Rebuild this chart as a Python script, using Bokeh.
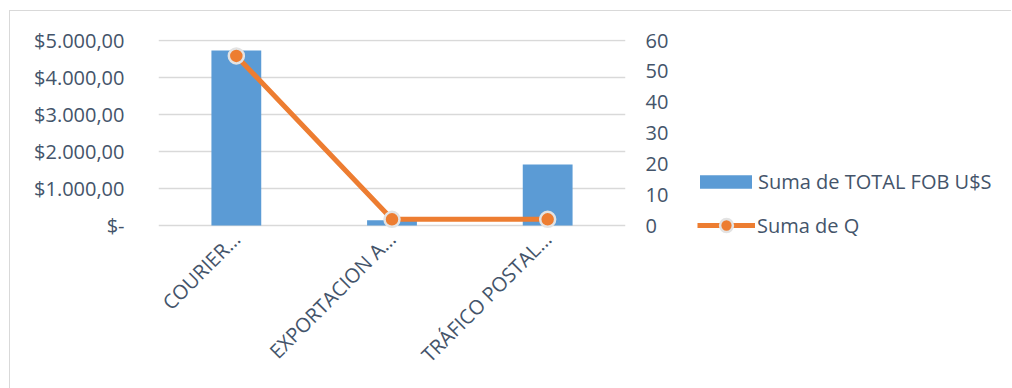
import math
from bokeh.plotting import figure
from bokeh.layouts import row
from bokeh.models import (Range1d, LinearAxis, FixedTicker, Legend, LegendItem,
                          ColumnDataSource, FactorRange)
from bokeh.embed import file_html
from bokeh.resources import INLINE

categories = ["COURIER\u2026", "EXPORTACION A\u2026", "TR\u00c1FICO POSTAL\u2026"]
total_fob = [4730, 140, 1650]
suma_q = [55, 2, 2]
left_ticks = [0, 1000, 2000, 3000, 4000, 5000]
left_labels = ["$-", "$1.000,00", "$2.000,00", "$3.000,00", "$4.000,00", "$5.000,00"]
right_ticks = [0, 10, 20, 30, 40, 50, 60]
series_names = ["Suma de TOTAL FOB U$S", "Suma de Q"]

FONT = "Open Sans"
TXT = "#44546A"
GRID = "#D9D9D9"
BLUE = "#5B9BD5"
ORANGE = "#ED7D31"
MARK_EDGE = "#E3E3E3"
BORDER = "1px solid #D9D9D9"

src = ColumnDataSource(dict(cat=categories, fob=total_fob, q=suma_q))

# frame spans 208 px; value 0 sits 22 px above the frame bottom so that the
# legend panel (whose frame is aligned with this one) has room below
PX_PER_FOB = 185 / 5000
fob_lo, fob_hi = -22 / PX_PER_FOB, 5000 + 1 / PX_PER_FOB
q_lo, q_hi = fob_lo * 60 / 5000, fob_hi * 60 / 5000

# ---------------- main chart ----------------
p = figure(width=671, height=378, x_range=FactorRange(*categories, range_padding=0),
           y_range=Range1d(fob_lo, fob_hi), output_backend="svg", toolbar_location=None,
           min_border_left=148, min_border_right=56, min_border_top=28, min_border_bottom=142,
           margin=(10, 0, 0, 9),
           styles={"border-left": BORDER, "border-top": BORDER})
p.outline_line_color = None
p.extra_y_ranges = {"q": Range1d(q_lo, q_hi)}

bars = p.vbar(x="cat", top="fob", width=0.32, source=src, fill_color=BLUE, line_color=None)
p.line(x="cat", y="q", source=src, y_range_name="q", line_color=ORANGE, line_width=5)
p.scatter(x="cat", y="q", source=src, y_range_name="q", size=15, fill_color=ORANGE,
          line_color=MARK_EDGE, line_width=2.5)

p.yaxis.ticker = FixedTicker(ticks=left_ticks)
p.yaxis.major_label_overrides = {t: l for t, l in zip(left_ticks, left_labels)}
ax_r = LinearAxis(y_range_name="q", ticker=FixedTicker(ticks=right_ticks))
p.add_layout(ax_r, "right")

for ax in [p.yaxis[0], ax_r, p.xaxis[0]]:
    ax.axis_line_color = None
    ax.major_tick_line_color = None
    ax.minor_tick_line_color = None
    ax.major_label_text_font = FONT
    ax.major_label_text_font_size = "20px"
    ax.major_label_text_color = TXT
p.yaxis[0].major_label_standoff = 28
ax_r.major_label_standoff = 14
p.xaxis[0].major_label_orientation = math.pi / 4
p.xaxis[0].major_label_standoff = -18

p.xgrid.grid_line_color = None
p.ygrid.grid_line_color = GRID
p.ygrid.grid_line_width = 1.5
p.ygrid.ticker = FixedTicker(ticks=left_ticks)

# ---------------- legend panel ----------------
lg = figure(width=331, height=378, x_range=FactorRange(*categories),
            y_range=Range1d(-20, -10), output_backend="svg", toolbar_location=None,
            min_border=0, x_axis_location=None, y_axis_location=None,
            margin=(10, 0, 0, 0), styles={"border-top": BORDER})
lg.grid.grid_line_color = None
lg.outline_line_color = None

lb = lg.vbar(x="cat", top="fob", width=0.32, source=src, fill_color=BLUE, line_color=None)
ll = lg.line(x="cat", y="q", source=src, line_color=ORANGE, line_width=5)
ls = lg.scatter(x="cat", y="q", source=src, size=15, fill_color=ORANGE,
                line_color=MARK_EDGE, line_width=2.5)
for r in (lb, ll, ls):
    r.visible = False

common = dict(padding=0, margin=0, border_line_color=None, background_fill_alpha=0,
              inactive_fill_alpha=0,
              label_text_font=FONT, label_text_font_size="20px", label_text_color=TXT)
leg1 = Legend(items=[LegendItem(label=series_names[0], renderers=[lb])],
              location=(13, 52), glyph_width=65, glyph_height=17, label_standoff=0, **common)
leg2 = Legend(items=[LegendItem(label=series_names[1], renderers=[ll, ls])],
              location=(17, 6), glyph_width=58, glyph_height=32, label_standoff=2, **common)
lg.add_layout(leg1, "center")
lg.add_layout(leg2, "center")

layout = row(p, lg)
open("out.html", "w").write(file_html(layout, INLINE))
